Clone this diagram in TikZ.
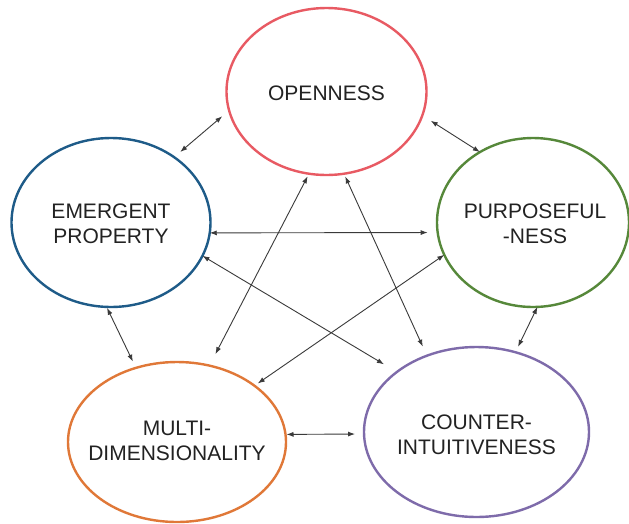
\documentclass[tikz,border=0pt]{standalone}
\usepackage{fontspec}
\setmainfont{Liberation Sans}
\usetikzlibrary{arrows.meta,shapes.geometric}
\definecolor{cred}{HTML}{E85A63}
\definecolor{cblue}{HTML}{1E5B88}
\definecolor{cgreen}{HTML}{56883A}
\definecolor{corange}{HTML}{E07838}
\definecolor{cpurple}{HTML}{7E6BAA}
\definecolor{lnk}{HTML}{3A3A3A}
\definecolor{txt}{HTML}{222222}
\begin{document}
\begin{tikzpicture}[x=1pt,y=-1pt,
  bub/.style={ellipse, draw, line width=2.4pt, inner sep=0pt, outer sep=0pt},
  lbl/.style={align=center, font=\fontsize{21}{25}\selectfont, text=txt, inner sep=0pt},
  link/.style={draw=lnk, line width=0.9pt, {Latex[length=7pt,width=5pt]}-{Latex[length=7pt,width=5pt]}}]
\useasboundingbox[fill=white] (0,0) rectangle (629,523);
\node[bub, draw=cred, minimum width=200pt, minimum height=167pt,
  label={[lbl,yshift=-1.5pt]center:OPENNESS}] (O) at (326.5,91.5) {};
\node[bub, draw=cblue, minimum width=199pt, minimum height=169pt,
  label={[lbl,yshift=-1.5pt]center:EMERGENT\\PROPERTY}] (E) at (111,222.5) {};
\node[bub, draw=cgreen, minimum width=192pt, minimum height=169pt,
  label={[lbl,yshift=-1pt,xshift=2pt]center:PURPOSEFUL\\-NESS}] (P) at (533,222.5) {};
\node[bub, draw=corange, minimum width=218pt, minimum height=160pt,
  label={[lbl,yshift=1.5pt]center:MULTI-\\DIMENSIONALITY}] (M) at (177,442) {};
\node[bub, draw=cpurple, minimum width=225pt, minimum height=170pt,
  label={[lbl,yshift=-2.5pt]center:COUNTER-\\INTUITIVENESS}] (C) at (476.5,432) {};
\draw[link, shorten <=9pt, shorten >=8pt] (O.191) -- (E.46);
\draw[link, shorten <=10pt] (O.346) -- (P.127);
\draw[link, shorten >=10pt] (E.354) -- (P.186);
\draw[link, shorten >=15pt] (E.340) -- (C.143);
\draw[link, shorten >=4pt] (P.200) -- (M.36);
\draw[link, shorten <=3pt, shorten >=13pt] (O.258) -- (M.67);
\draw[link, shorten <=3pt, shorten >=10pt] (O.282) -- (C.123);
\draw[link, shorten <=1pt, shorten >=7pt] (E.267) -- (M.119);
\draw[link, shorten >=6pt] (P.273) -- (C.64);
\draw[link, shorten <=1pt, shorten >=9pt] (M.4) -- (C.181);
\end{tikzpicture}
\end{document}
